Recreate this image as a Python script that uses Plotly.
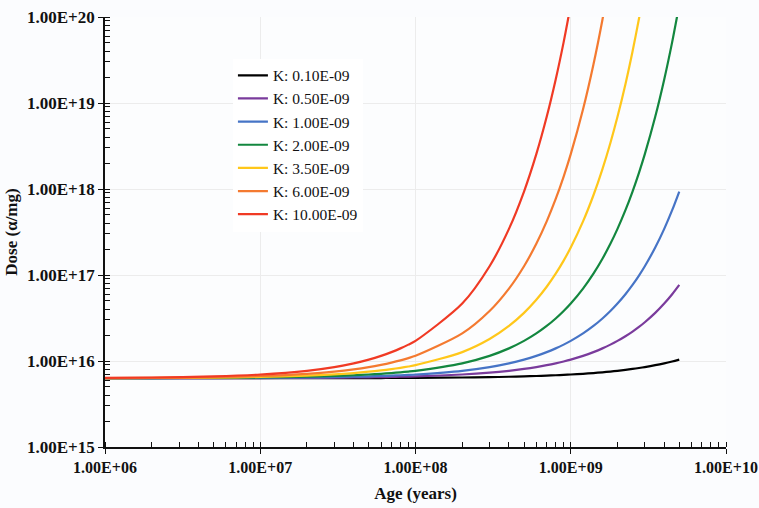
import plotly.graph_objects as go

# Age (years)
ages = [1e6, 2e6, 5e6, 1e7, 2e7, 3e7, 4e7, 5e7, 6e7, 7e7, 8e7, 9e7,
        1e8, 2e8, 3e8, 4e8, 5e8, 6e8, 7e8, 8e8, 9e8,
        1.0e9, 1.2e9, 1.4e9, 1.6e9, 1.8e9, 2.0e9, 2.25e9, 2.5e9, 2.75e9,
        3.0e9, 3.5e9, 4.0e9, 4.5e9, 5.0e9]

# Dose values, in units of 1E+15 alpha/mg
dose_k010 = [6.301, 6.301, 6.303, 6.306, 6.313, 6.319, 6.325, 6.332, 6.338, 6.344, 6.351, 6.357,
             6.363, 6.427, 6.492, 6.557, 6.623, 6.689, 6.757, 6.825, 6.893,
             6.963, 7.103, 7.247, 7.393, 7.542, 7.695, 7.889, 8.089, 8.294,
             8.504, 8.940, 9.398, 9.880, 10.387]
dose_k050 = [6.303, 6.306, 6.316, 6.332, 6.363, 6.395, 6.427, 6.459, 6.492, 6.524, 6.557, 6.590,
             6.623, 6.963, 7.319, 7.695, 8.089, 8.504, 8.940, 9.398, 9.880,
             10.387, 11.479, 12.687, 14.021, 15.495, 17.125, 19.405, 21.989, 24.917,
             28.235, 36.254, 46.551, 59.773, 76.750]
dose_k100 = [6.306, 6.313, 6.332, 6.363, 6.427, 6.492, 6.557, 6.623, 6.689, 6.757, 6.825, 6.893,
             6.963, 7.695, 8.504, 9.398, 10.387, 11.479, 12.687, 14.021, 15.495,
             17.125, 20.917, 25.548, 31.204, 38.112, 46.551, 59.773, 76.750, 98.548,
             126.539, 208.628, 343.969, 567.108, 935.003]
dose_k200 = [6.313, 6.325, 6.363, 6.427, 6.557, 6.689, 6.825, 6.963, 7.103, 7.247, 7.393, 7.542,
             7.695, 9.398, 11.479, 14.021, 17.125, 20.917, 25.548, 31.204, 38.112,
             46.551, 69.446, 103.601, 154.555, 230.569, 343.969, 567.108, 935.003, 1541.559,
             2541.601, 6908.79, 18780.0, 51049.4, 138766.8]
dose_k350 = [6.322, 6.344, 6.411, 6.524, 6.757, 6.997, 7.247, 7.505, 7.772, 8.049, 8.336, 8.633,
             8.940, 12.687, 18.003, 25.548, 36.254, 51.447, 73.006, 103.601, 147.017,
             208.628, 420.124, 846.026, 1703.69, 3430.80, 6908.79, 16573.4, 39757.4, 95373.2,
             228787.0]
dose_k600 = [6.338, 6.376, 6.492, 6.690, 7.103, 7.542, 8.009, 8.504, 9.030, 9.588, 10.181, 10.811,
             11.479, 20.917, 38.113, 69.446, 126.539, 230.569, 420.124, 765.516, 1394.86,
             2541.60, 8438.42, 28016.5, 93018.1, 308831.0]
dose_k1000 = [6.363, 6.427, 6.623, 6.963, 7.695, 8.504, 9.398, 10.387, 11.479, 12.687, 14.021, 15.495,
              17.125, 46.551, 126.539, 343.969, 935.003, 2541.60, 6908.79, 18780.0, 51049.4,
              138766.8]
UNIT = 1e15

series_names = ["K: 0.10E-09", "K: 0.50E-09", "K: 1.00E-09", "K: 2.00E-09",
                "K: 3.50E-09", "K: 6.00E-09", "K: 10.00E-09"]
series_values = [dose_k010, dose_k050, dose_k100, dose_k200, dose_k350, dose_k600, dose_k1000]
series_colors = ["#000000", "#7a3b9c", "#4674c6", "#13873f", "#ffc71a", "#f47a30", "#f03a24"]

x_tickvals = [1e6, 1e7, 1e8, 1e9, 1e10]
x_ticktext = ["1.00E+06", "1.00E+07", "1.00E+08", "1.00E+09", "1.00E+10"]
y_tickvals = [1e15, 1e16, 1e17, 1e18, 1e19, 1e20]
y_ticktext = ["1.00E+15", "1.00E+16", "1.00E+17", "1.00E+18", "1.00E+19", "1.00E+20"]

SERIF = "Liberation Serif, Times New Roman, serif"

fig = go.Figure()
for name, vals, col in zip(series_names, series_values, series_colors):
    fig.add_trace(go.Scatter(
        x=ages[:len(vals)], y=[v * UNIT for v in vals], name=name, mode="lines",
        line=dict(color=col, width=2.2, shape="spline", smoothing=0.8), cliponaxis=True))

axis_common = dict(
    type="log", showline=True, linecolor="#111111", linewidth=1.6, automargin=False,
    ticks="outside", ticklen=5, tickwidth=1.4, tickcolor="#111111",
    ticklabeloverflow="allow",
    showgrid=True, gridcolor="#ececec", gridwidth=1, zeroline=False,
    minor=dict(ticks="inside", ticklen=5, tickwidth=1.2, tickcolor="#111111",
               showgrid=False, dtick="D1"),
)

fig.update_layout(
    width=759, height=508,
    margin=dict(l=105, r=33, t=17, b=61),
    paper_bgcolor="#fbfcfe", plot_bgcolor="#fcfdfe",
    showlegend=True,
    legend=dict(x=0.206, y=0.903, xanchor="left", yanchor="top",
                bgcolor="#ffffff", borderwidth=0,
                font=dict(family=SERIF, size=15.5, color="#111111"),
                itemwidth=30, tracegroupgap=0),
    xaxis=dict(axis_common, range=[6, 10], tickvals=x_tickvals, ticktext=x_ticktext,
               tickfont=dict(family=SERIF, size=16, color="#111111", weight="bold"),
               title=dict(text="<b>Age (years)</b>", font=dict(family=SERIF, size=17, color="#111111"),
                          standoff=12)),
    yaxis=dict(axis_common, range=[15, 20], tickvals=y_tickvals, ticktext=y_ticktext,
               tickfont=dict(family=SERIF, size=17, color="#111111", weight="bold"),
               title=dict(text="<b>Dose (α/mg)</b>", font=dict(family=SERIF, size=17, color="#111111"),
                          standoff=5)),
)

fig.write_html("out.html", config={"displayModeBar": False},
               post_script="document.body.style.margin='0';document.body.style.background='#fbfcfe';")
